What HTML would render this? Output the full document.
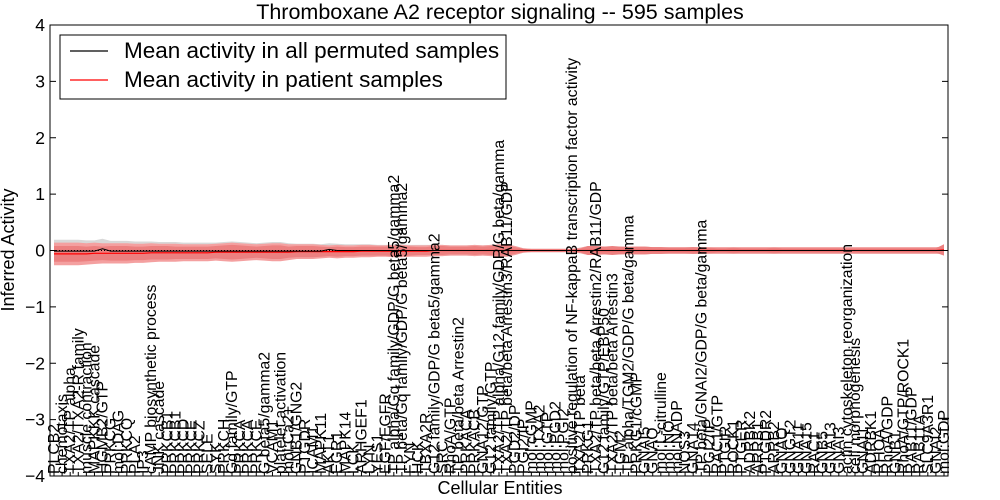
<!DOCTYPE html>
<html><head><meta charset="utf-8"><style>
body{margin:0;background:#fff;}
svg{display:block;font-family:"Liberation Sans","DejaVu Sans",sans-serif;}
</style></head><body>
<svg id="chart" width="1000" height="500" viewBox="0 0 1000 500">
<rect width="1000" height="500" fill="#fff"/>
<text x="500" y="19" text-anchor="middle" font-size="21.5">Thromboxane A2 receptor signaling -- 595 samples</text>
<g id="bands"></g>
<g id="lines"></g>
<g id="xlabels"></g>
<g id="yaxis"></g>
<rect x="50" y="25" width="898" height="451" fill="none" stroke="#000" stroke-width="1"/>
<text x="500" y="494" text-anchor="middle" font-size="18">Cellular Entities</text>
<text transform="translate(14,250) rotate(-90)" text-anchor="middle" font-size="18">Inferred Activity</text>
<g>
<rect x="60" y="35" width="446" height="64" fill="#fff" stroke="#000" stroke-width="1"/>
<line x1="70" y1="51" x2="108" y2="51" stroke="#000" stroke-width="1.2"/>
<text x="124" y="58" font-size="22.5">Mean activity in all permuted samples</text>
<line x1="70" y1="80" x2="108" y2="80" stroke="#f00" stroke-width="1.2"/>
<text x="124" y="87" font-size="22.5">Mean activity in patient samples</text>
</g>
</svg>
<script>
const categories = ["PLCB2","chemotaxis","TXA2/TP alpha","TXA2/TXA2-R family","muscle contraction","MAPKKK cascade","HGMB2/GTP","PRKCG","mol:DAG","PRKCQ",
"PLA2","IP3","cAMP biosynthetic process","JNK cascade","PRKCB1","PRKCB1","PRKCD","PRKCE","PRKCZ","SELE",
"SYK","PRKCH","Gq family/GTP","PRKCA","PRKCA","PRKCE","G beta5/gamma2","VCAM1","platelet activation","mol:Ca2+",
"GNB1/GNG2","PTGDR","ICAM1","MAPK11","AKT1","EGR1","MAPK14","LCK","ARHGEF1","LYN",
"YES1","EGF/EGFR","TP alpha/Gq family/GDP/G beta5/gamma2","TP beta/Gq family/GDP/G beta5/gamma2","FYN","HCK","TBXA2R","G12 family/GDP/G beta5/gamma2","SRC","RhoA/GTP",
"TP beta/beta Arrestin2","PRKACA","PRKACB","GNA12/GTP","G12 family/GTP","TXA2/TP alpha/G12 family/GDP/G beta/gamma","TXA2/TP beta/beta Arrestin3/RAB11/GDP","PGD2/DP","PGI2/IP","mol:cGMP",
"mol:TXA2","mol:GTP","mol:PGD2","mol:PGI2","positive regulation of NF-kappaB transcription factor activity","TXA2/TP beta","PRKG1","TXA2/TP beta/beta Arrestin2/RAB11/GDP","G12 family/GTP/EBP50","TXA2/TP beta/beta Arrestin3",
"TGM2","TP alpha/TGM2/GDP/G beta/gamma","PRKG1/cGMP","GNAI5","GNAQ","mol:L-citrulline","mol:NO","mol:NADP","NOS3","GNA14",
"TP beta/GNAI2/GDP/G beta/gamma","PGI2/IP","RAC1/GTP","PTGIR","ROCK1","PTGER","ADRBK2","ARRB1","PTGDR2","ARRB2",
"GNAQ","GNGT2","GNA11","GNA15","RAC1","GNB5","GNA13","GNAI3","actin cytoskeleton reorganization","cell morphogenesis",
"GNAI1","ADRBK1","RHOA","RhoA/GDP","GNB1","RhoA/GTP/ROCK1","RAB11/GDP","RAB11A","SLC9A3R1","GNAI2",
"mol:GDP"];
const patientMean = [-0.06,-0.06,-0.06,-0.06,-0.06,-0.05,-0.05,-0.05,-0.05,-0.05,
-0.05,-0.05,-0.04,-0.04,-0.04,-0.04,-0.04,-0.04,-0.04,-0.04,
-0.03,-0.03,-0.03,-0.03,-0.03,-0.03,-0.03,-0.03,-0.03,-0.03,
-0.02,-0.02,-0.02,-0.02,-0.02,-0.02,-0.02,-0.02,-0.01,-0.01,
-0.01,-0.01,-0.01,-0.01,-0.01,-0.01,-0.01,0,0,0,
0,0,0,0,0,0,0,0,0,0,
0,0,0,0,0,0,0,0,0,0,
0,0,0,0,0,0,0,0,0,0,
0,0,0,0,0,0,0,0,0,0,
0,0,0,0,0,0,0,0,0,0,
0,0,0,0,0,0,0,0,0,0,
0.01];
const permMean = [-0.01,-0.01,-0.01,-0.01,-0.01,-0.01,0.03,-0.01,-0.01,-0.01,
-0.01,-0.01,-0.01,-0.01,-0.01,-0.01,-0.01,-0.01,-0.01,-0.01,
-0.01,-0.01,-0.01,-0.01,-0.01,-0.01,-0.01,-0.01,-0.01,-0.01,
-0.01,-0.01,-0.01,-0.01,0.02,0,0,0,0,0,
0,0,0,0,0,0,0,0,0,0,
0,0,0,0,0,0,0,0,0,0,
0,0,0,0,0,0,0,0,0,0,
0,0,0,0,0,0,0,0,0,0,
0,0,0,0,0,0,0,0,0,0,
0,0,0,0,0,0,0,0,0,0,
0,0,0,0,0,0,0,0,0,0,
0];
const patientSd = [0.14,0.14,0.14,0.14,0.13,0.13,0.12,0.13,0.13,0.13,
0.12,0.12,0.12,0.12,0.12,0.11,0.11,0.11,0.11,0.11,
0.11,0.12,0.13,0.12,0.11,0.10,0.11,0.12,0.12,0.10,
0.10,0.10,0.10,0.09,0.08,0.09,0.08,0.08,0.08,0.08,
0.08,0.08,0.09,0.09,0.08,0.07,0.07,0.08,0.08,0.07,
0.07,0.07,0.08,0.07,0.08,0.09,0.09,0.06,0.03,0.02,
0.02,0.02,0.02,0.02,0.02,0.03,0.08,0.08,0.07,0.08,
0.07,0.06,0.07,0.07,0.06,0.06,0.05,0.05,0.05,0.06,
0.05,0.05,0.04,0.04,0.05,0.04,0.04,0.04,0.04,0.05,
0.04,0.04,0.04,0.04,0.04,0.04,0.04,0.04,0.04,0.04,
0.04,0.04,0.04,0.04,0.04,0.04,0.04,0.04,0.04,0.04,
0.10];
const permSd = [0.20,0.20,0.20,0.20,0.19,0.19,0.18,0.18,0.18,0.18,
0.17,0.17,0.17,0.16,0.16,0.16,0.15,0.15,0.15,0.15,
0.15,0.16,0.17,0.16,0.15,0.14,0.15,0.16,0.16,0.14,
0.13,0.13,0.13,0.12,0.11,0.12,0.11,0.11,0.11,0.11,
0.10,0.10,0.11,0.11,0.10,0.10,0.10,0.10,0.10,0.09,
0.09,0.09,0.10,0.09,0.10,0.11,0.11,0.08,0.04,0.03,
0.03,0.03,0.03,0.03,0.03,0.05,0.08,0.07,0.07,0.07,
0.07,0.07,0.07,0.07,0.06,0.06,0.06,0.06,0.06,0.06,
0.06,0.06,0.06,0.06,0.06,0.06,0.06,0.06,0.06,0.06,
0.06,0.06,0.06,0.06,0.06,0.06,0.06,0.06,0.06,0.06,
0.06,0.06,0.06,0.06,0.06,0.06,0.06,0.06,0.06,0.06,
0.06];
const yTicks = [-4,-3,-2,-1,0,1,2,3,4];
const yTickLabels = ["\u22124","\u22123","\u22122","\u22121","0","1","2","3","4"];

const NS="http://www.w3.org/2000/svg";
const X0=54, X1=944, Y0=476, Y1=25, YMIN=-4, YMAX=4;
function xs(i){return X0+(X1-X0)*i/(categories.length-1);}
function ys(v){return Y0-(v-YMIN)/(YMAX-YMIN)*(Y0-Y1);}
function mk(tag,parent){const e=document.createElementNS(NS,tag);document.getElementById(parent).appendChild(e);return e;}
function bandPath(mean,sd,k){
  let d="";
  for(let i=0;i<mean.length;i++){d+=(i?"L":"M")+xs(i).toFixed(1)+","+ys(mean[i]+sd[i]*k).toFixed(1);}
  for(let i=mean.length-1;i>=0;i--){d+="L"+xs(i).toFixed(1)+","+ys(mean[i]-sd[i]*k).toFixed(1);}
  return d+"Z";
}
function linePath(arr){let d="";arr.forEach((v,i)=>{d+=(i?"L":"M")+xs(i).toFixed(1)+","+ys(v).toFixed(1);});return d;}

const gb=mk("path","bands");


gb.setAttribute("d",bandPath(permMean,permSd,1));gb.setAttribute("fill","#d8d8d8");
const ro=mk("path","bands");


ro.setAttribute("d",bandPath(patientMean,permSd,1));ro.setAttribute("fill","#f4a0a0");
const ri=mk("path","bands");


ri.setAttribute("d",bandPath(patientMean,patientSd,1));ri.setAttribute("fill","#ec8080");

const zl=mk("line","lines");


zl.setAttribute("x1",50);zl.setAttribute("x2",948);zl.setAttribute("y1",ys(0));zl.setAttribute("y2",ys(0));
zl.setAttribute("stroke","#000");zl.setAttribute("stroke-dasharray","1,2");
const pl=mk("path","lines");


pl.setAttribute("d",linePath(patientMean));pl.setAttribute("fill","none");pl.setAttribute("stroke","#f00");pl.setAttribute("stroke-width","1.2");
const bl=mk("path","lines");


bl.setAttribute("d",linePath(permMean));bl.setAttribute("fill","none");bl.setAttribute("stroke","#000");bl.setAttribute("stroke-width","1");

categories.forEach((c,i)=>{
  const t=mk("text","xlabels");
  
  
  const x=xs(i)+5;
  t.setAttribute("transform","translate("+x.toFixed(1)+",474) rotate(-90)");
  t.setAttribute("font-size","15.8");
  t.textContent=c;
  const tk=mk("line","xlabels");
  
  
  tk.setAttribute("x1",xs(i));tk.setAttribute("x2",xs(i));tk.setAttribute("y1",476);tk.setAttribute("y2",472);tk.setAttribute("stroke","#000");
});
yTicks.forEach((v,i)=>{
  const t=mk("text","yaxis");
  
  
  t.setAttribute("x",45);t.setAttribute("y",ys(v)+6);t.setAttribute("text-anchor","end");t.setAttribute("font-size","17.5");
  t.textContent=yTickLabels[i];
  [[50,56],[948,942]].forEach(p=>{
    const tk=mk("line","yaxis");
    
    
    tk.setAttribute("x1",p[0]);tk.setAttribute("x2",p[1]);tk.setAttribute("y1",ys(v));tk.setAttribute("y2",ys(v));tk.setAttribute("stroke","#000");
  });
});
</script>
</body></html>
